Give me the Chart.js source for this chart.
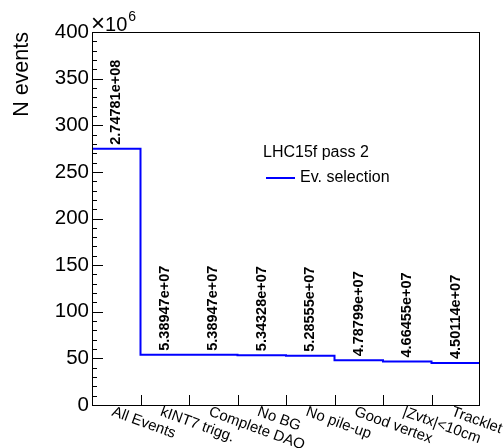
<!DOCTYPE html>
<html>
<head>
<meta charset="utf-8">
<script src="https://cdn.jsdelivr.net/npm/chart.js@4/dist/chart.umd.min.js"></script>
<style>
  html, body { margin: 0; padding: 0; background: #fff; }
  #wrap { width: 504px; height: 448px; }
</style>
</head>
<body>
<div id="wrap"><canvas id="cuts"></canvas></div>
<script>
// event selection steps (one bin per cut)
const cutNames = ["All Events", "kINT7 trigg.", "Complete DAQ", "No BG", "No pile-up",
                  "Good vertex", "|Zvtx|<10cm", "Tracklet"];
const nEvents = [2.74781e8, 5.38947e7, 5.38947e7, 5.34328e7, 5.28555e7,
                 4.78799e7, 4.66455e7, 4.50114e7];
const yTicks = [0, 50, 100, 150, 200, 250, 300, 350, 400]; // x10^6
const legendTitle = "LHC15f pass 2";
const seriesName = "Ev. selection";

const FONT = "'Liberation Sans', Arial, Helvetica, sans-serif";
Chart.defaults.font.family = FONT;
Chart.defaults.color = "#000";

// histogram step: left edge of each bin, plus closing right edge
let stepPoints = nEvents.map((v, i) => ({x: i, y: v}));
stepPoints.push({x: nEvents.length, y: nEvents[nEvents.length - 1]});

function rootExp(v) {
  // ROOT style 2.74781e+08
  let s = v.toExponential(5);
  return s.replace(/e([+-])(\d)$/, "e$10$2");
}

const histDecor = {
  id: "histDecor",
  afterDatasetsDraw(chart) {
    const ctx = chart.ctx;
    const a = chart.chartArea;
    const xs = chart.scales.x, ys = chart.scales.y;
    ctx.save();

    // frame
    ctx.strokeStyle = "#000";
    ctx.lineWidth = 1;
    ctx.strokeRect(Math.round(a.left) + 0.5, Math.round(a.top) + 0.5,
                   Math.round(a.right - a.left) - 1, Math.round(a.bottom - a.top));

    // y ticks, major + minor, pointing inward
    ctx.beginPath();
    for (let v = 0; v <= 400; v += 10) {
      const y = Math.round(ys.getPixelForValue(v * 1e6)) + 0.5;
      const len = (v % 50 === 0) ? 11 : 5;
      ctx.moveTo(a.left, y);
      ctx.lineTo(a.left + len, y);
    }
    // x ticks at bin edges
    for (let i = 1; i < cutNames.length; i++) {
      const x = Math.round(xs.getPixelForValue(i)) + 0.5;
      ctx.moveTo(x, a.bottom);
      ctx.lineTo(x, a.bottom - 10);
    }
    ctx.stroke();

    // bin contents written vertically above the step
    ctx.font = "bold 14.5px " + FONT;
    ctx.fillStyle = "#000";
    ctx.textAlign = "left";
    ctx.textBaseline = "middle";
    nEvents.forEach((v, i) => {
      const x = xs.getPixelForValue(i + 0.5);
      const y = ys.getPixelForValue(v) - 4;
      ctx.save();
      ctx.translate(x, y);
      ctx.rotate(-Math.PI / 2);
      ctx.fillText(rootExp(v), 0, 0);
      ctx.restore();
    });

    // tilted bin labels
    ctx.font = "15px " + FONT;
    ctx.textBaseline = "alphabetic";
    cutNames.forEach((name, i) => {
      const x = xs.getPixelForValue(i + 0.5) - 1.5;
      ctx.save();
      ctx.translate(x, a.bottom);
      ctx.rotate(20 * Math.PI / 180);
      ctx.fillText(name, 0, 11);
      ctx.restore();
    });

    // x10^6 multiplier
    ctx.font = "24px " + FONT;
    ctx.fillText("\u00d7", a.left - 1, a.top - 1);
    let w = ctx.measureText("\u00d7").width - 1;
    ctx.font = "20px " + FONT;
    ctx.fillText("10", a.left + w, a.top - 1);
    w += ctx.measureText("10").width;
    ctx.font = "14px " + FONT;
    ctx.fillText("6", a.left + w + 1, a.top - 11);

    // legend
    ctx.font = "16px " + FONT;
    ctx.textBaseline = "middle";
    ctx.fillText(legendTitle, 263, 153);
    ctx.strokeStyle = "#0000ff";
    ctx.lineWidth = 2;
    ctx.beginPath();
    ctx.moveTo(266, 178);
    ctx.lineTo(295, 178);
    ctx.stroke();
    ctx.fillText(seriesName, 300, 178);

    ctx.restore();
  }
};

new Chart(document.getElementById("cuts"), {
  type: "line",
  data: {
    datasets: [{
      label: seriesName,
      data: stepPoints,
      stepped: true,
      borderColor: "#0000ff",
      borderWidth: 2,
      pointRadius: 0,
      fill: false
    }]
  },
  options: {
    responsive: true,
    maintainAspectRatio: false,
    animation: false,
    layout: { padding: { top: 32, right: 24, left: 0, bottom: 0 } },
    plugins: {
      legend: { display: false },
      tooltip: { enabled: false }
    },
    scales: {
      x: {
        type: "linear",
        min: 0,
        max: cutNames.length,
        ticks: { display: false },
        grid: { display: false },
        border: { display: false },
        afterFit: (s) => { s.height = 43; }
      },
      y: {
        type: "linear",
        min: 0,
        max: yTicks[yTicks.length - 1] * 1e6,
        afterBuildTicks: (s) => { s.ticks = yTicks.map(t => ({value: t * 1e6})); },
        ticks: {
          font: { size: 20.5 },
          color: "#000",
          padding: 3,
          callback: (v) => String(v / 1e6)
        },
        grid: { display: false, drawTicks: false },
        border: { display: false },
        title: {
          display: true,
          text: "N events",
          align: "end",
          color: "#000",
          font: { size: 21.5 },
          padding: { top: 9, bottom: 0 }
        },
        afterFit: (s) => { s.width = 92; }
      }
    }
  },
  plugins: [histDecor]
});
</script>
</body>
</html>
